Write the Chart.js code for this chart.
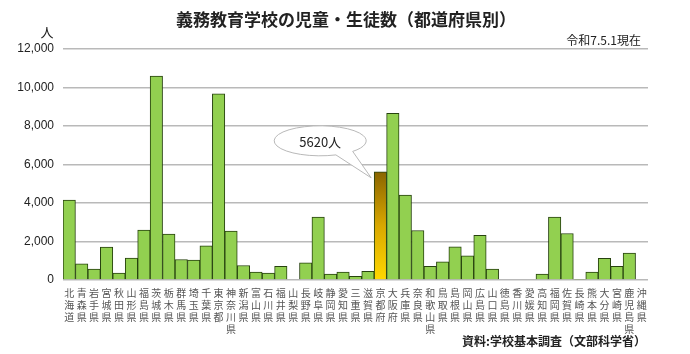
<!DOCTYPE html>
<html><head><meta charset="utf-8">
<script src="https://cdn.jsdelivr.net/npm/chart.js@4.4.1/dist/chart.umd.min.js"></script>
<style>html,body{margin:0;padding:0;background:#fff}#wrap{width:690px;height:354px;position:relative}</style>
</head><body><div id="wrap"><canvas id="c" width="690" height="354"></canvas></div>
<script>
const prefectures = ['北海道','青森県','岩手県','宮城県','秋田県','山形県','福島県','茨城県','栃木県','群馬県','埼玉県','千葉県','東京都','神奈川県','新潟県','富山県','石川県','福井県','山梨県','長野県','岐阜県','静岡県','愛知県','三重県','滋賀県','京都府','大阪府','兵庫県','奈良県','和歌山県','鳥取県','島根県','岡山県','広島県','山口県','徳島県','香川県','愛媛県','高知県','福岡県','佐賀県','長崎県','熊本県','大分県','宮崎県','鹿児島県','沖縄県'];
const students = [4150,845,570,1710,360,1140,2590,10590,2385,1065,1035,1775,9670,2540,755,415,365,705,0,895,3265,310,415,185,445,5620,8655,4405,2570,705,950,1725,1260,2320,570,0,0,0,310,3265,2415,40,415,1120,705,1400,0];
const highlightName = '京都府';
const yTicks = [0,2000,4000,6000,8000,10000,12000];
const titleText = '義務教育学校の児童・生徒数（都道府県別）';
const unitText = '人';
const dateText = '令和7.5.1現在';
const sourceText = '資料:学校基本調査（文部科学省）';

const hi = prefectures.indexOf(highlightName);
const JP = '"Noto Sans CJK JP", sans-serif';

const textPlugin = {
  id: 'texts',
  afterDraw(chart) {
    const ctx = chart.ctx;
    ctx.save();
    ctx.fillStyle = '#222';
    ctx.textBaseline = 'middle';
    ctx.textAlign = 'center';
    ctx.font = 'bold 17px ' + JP;
    ctx.fillText(titleText, 346, 20);
    ctx.font = '13px ' + JP;
    ctx.fillText(unitText, 47, 32);
    ctx.font = '12px ' + JP;
    ctx.textAlign = 'right';
    ctx.fillText(dateText, 641, 40);
    ctx.font = 'bold 12px ' + JP;
    ctx.fillText(sourceText, 646, 341);
    ctx.restore();
  },
  afterDatasetsDraw(chart) {
    const ctx = chart.ctx;
    const bar = chart.getDatasetMeta(0).data[hi];
    const left = bar.x - bar.width / 2;
    const tipX = left - 3, tipY = bar.y + 6;
    const cx = tipX - 51, cy = tipY - 37, rx = 46, ry = 15;
    ctx.save();
    ctx.beginPath();
    const a1 = 70 * Math.PI / 180, a2 = 45 * Math.PI / 180;
    ctx.ellipse(cx, cy, rx, ry, 0, a1, a2 + 2 * Math.PI, false);
    ctx.lineTo(tipX, tipY);
    ctx.closePath();
    ctx.fillStyle = '#fff';
    ctx.fill();
    ctx.strokeStyle = '#b8b8b8';
    ctx.lineWidth = 1;
    ctx.stroke();
    ctx.fillStyle = '#222';
    ctx.font = '13px ' + JP;
    ctx.textAlign = 'center';
    ctx.textBaseline = 'middle';
    ctx.fillText(students[hi] + '人', cx, cy + 1);
    ctx.restore();
  }
};

new Chart(document.getElementById('c'), {
  type: 'bar',
  data: {
    labels: prefectures.map(p => [...p]),
    datasets: [{
      data: students,
      backgroundColor: (c) => {
        if (c.dataIndex !== hi) return '#92d050';
        const ch = c.chart; const a = ch.chartArea;
        if (!a) return '#e0b000';
        const y = ch.scales.y;
        const g = ch.ctx.createLinearGradient(0, y.getPixelForValue(students[hi]), 0, y.getPixelForValue(0));
        g.addColorStop(0, '#8a6400');
        g.addColorStop(0.5, '#d9a800');
        g.addColorStop(1, '#ffd800');
        return g;
      },
      borderColor: '#27420f',
      borderWidth: 1,
      borderSkipped: 'bottom',
      barPercentage: 1,
      categoryPercentage: 1
    }]
  },
  options: {
    responsive: false,
    animation: false,
    devicePixelRatio: 1,
    layout: { padding: { top: 49, left: 0, right: 42, bottom: 0 } },
    plugins: { legend: { display: false }, tooltip: { enabled: false } },
    scales: {
      x: {
        grid: { display: false, drawTicks: false },
        border: { display: false },
        ticks: { autoSkip: false, maxRotation: 0, minRotation: 0, padding: 7, color: '#555',
          font: { family: JP, size: 10, lineHeight: 1.2 } },
        afterFit(s) { s.height = 74; }
      },
      y: {
        min: 0, max: 12000,
        afterBuildTicks(s) { s.ticks = yTicks.map(v => ({ value: v })); },
        grid: { color: '#b9b9b9', lineWidth: 1.5, drawTicks: false },
        border: { display: false },
        ticks: { padding: 9, color: '#222', font: { family: '"Liberation Sans", Arial, sans-serif', size: 12 },
          callback: v => v.toLocaleString('en-US') },
        afterFit(s) { s.width = 63; }
      }
    }
  },
  plugins: [textPlugin]
});
</script></body></html>
